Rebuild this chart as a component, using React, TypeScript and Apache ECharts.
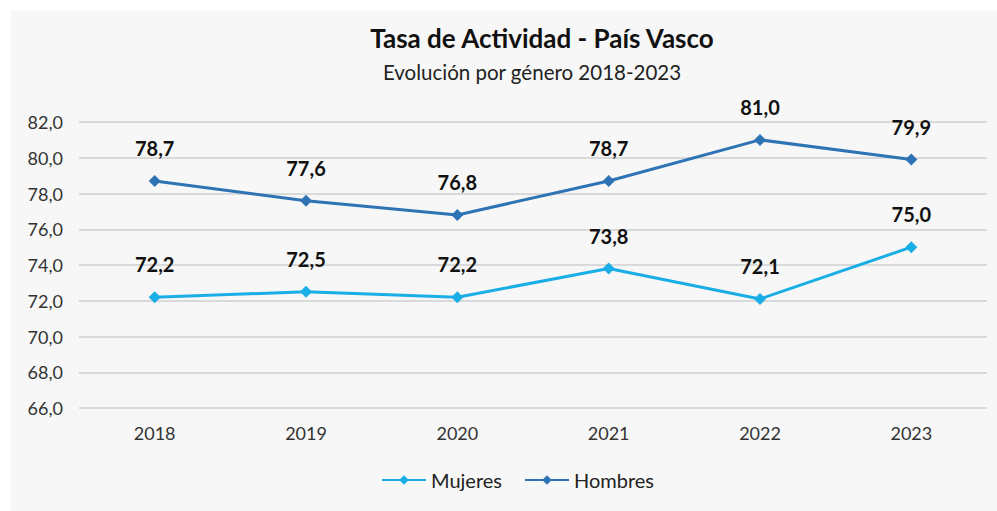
import React, { useEffect, useRef } from "react";
import * as echarts from "echarts";

const years = ["2018", "2019", "2020", "2021", "2022", "2023"];
const mujeres = [72.2, 72.5, 72.2, 73.8, 72.1, 75.0];
const hombres = [78.7, 77.6, 76.8, 78.7, 81.0, 79.9];

const FONT = "Lato, 'Open Sans', sans-serif";

export default function App() {
  const ref = useRef<HTMLDivElement>(null);
  useEffect(() => {
    document.body.style.margin = "0";
    const chart = echarts.init(ref.current!, null, { renderer: "svg" });
    const fmt = (v: number) => v.toFixed(1).replace(".", ",");
    const labelCfg = {
      show: true,
      position: "top",
      distance: 17,
      fontFamily: FONT,
      fontWeight: "bold",
      fontSize: 20,
      color: "#111",
      formatter: (p: any) => fmt(p.value),
    };
    chart.setOption({
      animation: false,
      backgroundColor: "#ffffff",
      graphic: [
        {
          type: "rect",
          shape: { x: 11, y: 11, width: 986, height: 500 },
          style: { fill: "#f7f7f7" },
          z: -10,
          silent: true,
        },
      ],
      title: [
        {
          text: "Tasa de Actividad - País Vasco",
          left: 537,
          textAlign: "center",
          top: 20,
          textStyle: { fontFamily: FONT, fontWeight: "bold", fontSize: 26, color: "#111" },
        },
        {
          text: "Evolución por género 2018-2023",
          left: 527,
          textAlign: "center",
          top: 56,
          textStyle: { fontFamily: FONT, fontWeight: "normal", fontSize: 20.5, color: "#222" },
        },
      ],
      legend: {
        bottom: 16,
        left: 376,
        itemWidth: 44,
        itemHeight: 12,
        itemGap: 22,
        textStyle: { fontFamily: FONT, fontSize: 20, color: "#222" },
        data: ["Mujeres", "Hombres"],
      },
      grid: { left: 79, right: 10, top: 122, bottom: 103, containLabel: false },
      xAxis: {
        type: "category",
        data: years,
        boundaryGap: true,
        axisLine: { show: false },
        axisTick: { show: false },
        axisLabel: { fontFamily: FONT, fontSize: 18, color: "#333", margin: 16 },
      },
      yAxis: {
        type: "value",
        min: 66,
        max: 82,
        interval: 2,
        axisLine: { show: false },
        axisTick: { show: false },
        splitLine: { lineStyle: { color: "#d9d9d9", width: 2 } },
        axisLabel: {
          fontFamily: FONT,
          fontSize: 18,
          color: "#333",
          margin: 16,
          formatter: (v: number) => fmt(v),
        },
      },
      series: [
        {
          name: "Mujeres",
          type: "line",
          data: mujeres,
          symbol: "diamond",
          symbolSize: 12,
          color: "#1aaee6",
          lineStyle: { width: 3, color: "#1aaee6" },
          itemStyle: { color: "#1aaee6" },
          label: labelCfg,
        },
        {
          name: "Hombres",
          type: "line",
          data: hombres,
          symbol: "diamond",
          symbolSize: 12,
          color: "#2e73b4",
          lineStyle: { width: 3, color: "#2e73b4" },
          itemStyle: { color: "#2e73b4" },
          label: labelCfg,
        },
      ],
    });
    return () => chart.dispose();
  }, []);
  return <div ref={ref} style={{ position: "absolute", left: 0, top: 0, width: 997, height: 511 }} />;
}
